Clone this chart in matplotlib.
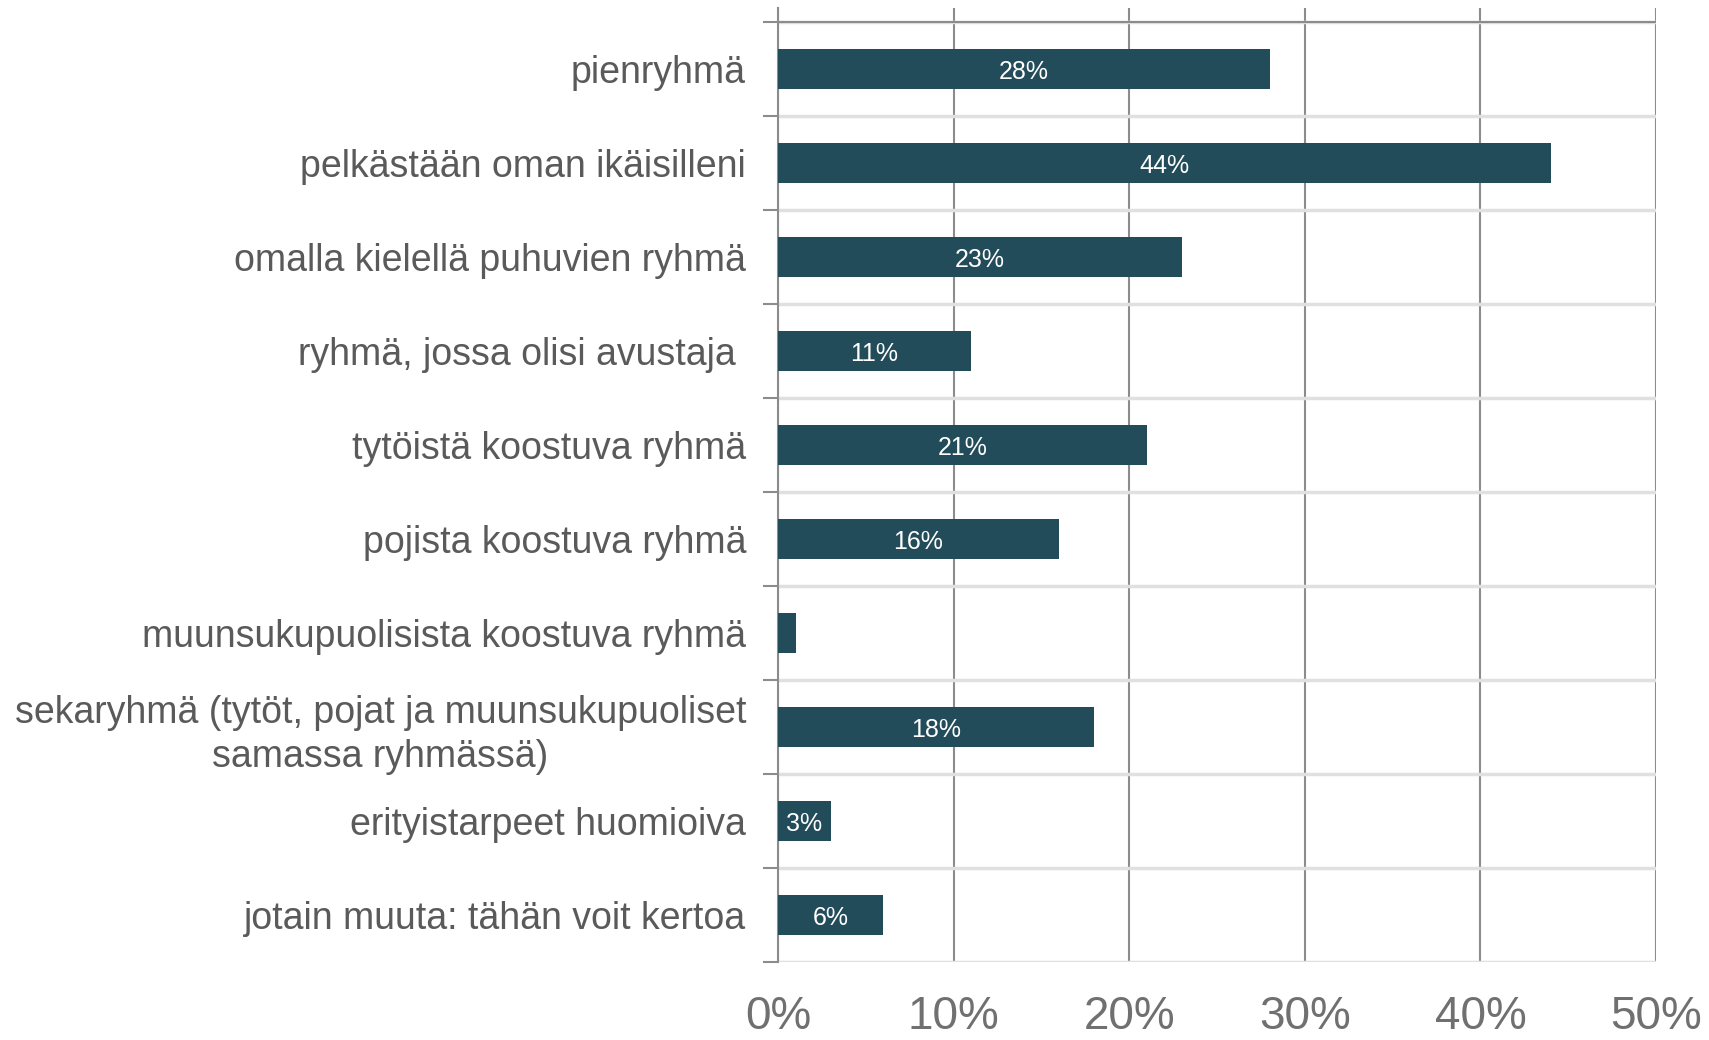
import numpy as np
import matplotlib.pyplot as plt
from matplotlib.ticker import FixedLocator, PercentFormatter

plt.rcParams['font.family'] = ['Liberation Sans', 'DejaVu Sans']

categories = [
    'pienryhmä',
    'pelkästään oman ikäisilleni',
    'omalla kielellä puhuvien ryhmä',
    'ryhmä, jossa olisi avustaja ',
    'tytöistä koostuva ryhmä',
    'pojista koostuva ryhmä',
    'muunsukupuolisista koostuva ryhmä',
    'sekaryhmä (tytöt, pojat ja muunsukupuoliset\nsamassa ryhmässä)',
    'erityistarpeet huomioiva',
    'jotain muuta: tähän voit kertoa',
]
values = [28, 44, 23, 11, 21, 16, 1, 18, 3, 6]
bar_labels = ['28%', '44%', '23%', '11%', '21%', '16%', '', '18%', '3%', '6%']
xticks = [0, 10, 20, 30, 40, 50]

bar_color = '#234c5a'

fig = plt.figure(figsize=(17.09, 10.40), dpi=100)
ax = fig.add_axes([778 / 1709, 1 - 962 / 1040, 878 / 1709, 954 / 1040])

y = np.arange(len(categories))
bars = ax.barh(y, values, height=0.42, color=bar_color, zorder=3)

for rect, lab in zip(bars, bar_labels):
    if lab:
        ax.text(rect.get_x() + rect.get_width() / 2, rect.get_y() + rect.get_height() / 2,
                lab, ha='center', va='center_baseline', color='white', fontsize=18, zorder=4)

ax.set_xlim(0, 50)
ax.set_ylim(len(categories) - 0.5, -0.65)

ax.set_xticks(xticks)
ax.xaxis.set_major_formatter(PercentFormatter(decimals=0))
ax.tick_params(axis='x', length=0, pad=24, labelsize=33, labelcolor='#707070')
ax.grid(axis='x', color='#8c8c8c', linewidth=1.5, zorder=1)

ax.set_yticks(y)
ax.set_yticklabels(categories, multialignment='center', linespacing=1.3)
ax.tick_params(axis='y', which='major', length=0, pad=23, labelsize=27, labelcolor='#5a5a5a')
bounds = np.arange(-0.5, len(categories), 1.0)
ax.yaxis.set_minor_locator(FixedLocator(bounds))
ax.tick_params(axis='y', which='minor', length=11, width=1.5, color='#8c8c8c')
ax.grid(axis='y', which='minor', color='#e0e0e0', linewidth=2.5, zorder=1)
ax.axhline(-0.5, color='#8c8c8c', linewidth=1.5, zorder=2)

for s in ['top', 'right', 'bottom']:
    ax.spines[s].set_visible(False)
ax.spines['left'].set_color('#8c8c8c')
ax.spines['left'].set_linewidth(1.5)

fig.savefig('out.png', dpi=100)
